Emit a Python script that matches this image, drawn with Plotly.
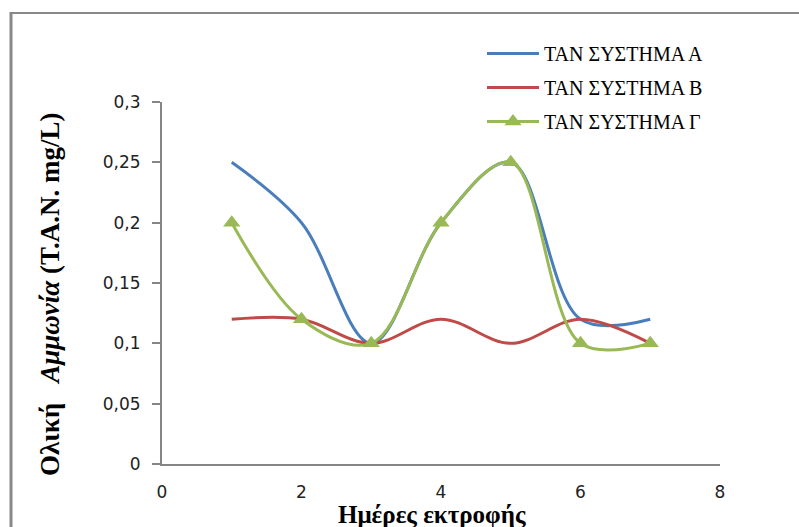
import plotly.graph_objects as go

days = [1, 2, 3, 4, 5, 6, 7]
series_a = [0.25, 0.20, 0.10, 0.20, 0.25, 0.12, 0.12]
series_b = [0.12, 0.12, 0.10, 0.12, 0.10, 0.12, 0.10]
series_c = [0.20, 0.12, 0.10, 0.20, 0.25, 0.10, 0.10]
names = ["ΤΑΝ ΣΥΣΤΗΜΑ Α", "ΤΑΝ ΣΥΣΤΗΜΑ Β", "ΤΑΝ ΣΥΣΤΗΜΑ Γ"]
y_ticks = [0, 0.05, 0.1, 0.15, 0.2, 0.25, 0.3]
y_ticklabels = ["0", "0,05", "0,1", "0,15", "0,2", "0,25", "0,3"]
x_ticks = [0, 2, 4, 6, 8]

W, H = 799, 527
L, R, T, B = 162, 79, 102, 63
pw, ph = W - L - R, H - T - B

def px_x(p):
    return (p - L) / pw

def px_y(p):
    return (H - B - p) / ph

SERIF = "Liberation Serif, Times New Roman, serif"

fig = go.Figure()
fig.add_trace(go.Scatter(x=days, y=series_a, name=names[0], mode="lines",
                         line=dict(color="#4A7EBB", width=3, shape="spline"),
                         legendgroup="a"))
fig.add_trace(go.Scatter(x=days, y=series_b, name=names[1], mode="lines",
                         line=dict(color="#BE4B48", width=3, shape="spline"),
                         legendgroup="b"))
fig.add_trace(go.Scatter(x=days, y=series_c, name=names[2], mode="lines+markers",
                         line=dict(color="#98B954", width=3, shape="spline"),
                         marker=dict(symbol="triangle-up", size=15, color="#98B954"),
                         legendgroup="c"))

fig.update_layout(
    width=W, height=H,
    margin=dict(l=L, r=R, t=T, b=B),
    paper_bgcolor="white", plot_bgcolor="white",
    showlegend=True,
    legend=dict(x=px_x(482), y=px_y(34), xanchor="left", yanchor="top",
                font=dict(family=SERIF, size=20, color="black"),
                traceorder="grouped", tracegroupgap=5, itemwidth=52,
                bgcolor="rgba(0,0,0,0)"),
    xaxis=dict(range=[0, 8], tickvals=x_ticks, showgrid=False, zeroline=False,
               showline=True, linecolor="#868686", linewidth=2, ticks="",
               ticklabelstandoff=12,
               tickfont=dict(family="DejaVu Sans", size=17, color="#222")),
    yaxis=dict(range=[0, 0.3], tickvals=y_ticks, ticktext=y_ticklabels,
               showgrid=False, zeroline=False, showline=True, linecolor="#868686",
               linewidth=2, ticks="outside", ticklen=8, tickcolor="#868686",
               tickwidth=2, ticklabelstandoff=8,
               tickfont=dict(family="DejaVu Sans", size=17, color="#222")),
    annotations=[
        dict(text="<b>Ημέρες εκτροφής</b>", xref="paper", yref="paper",
             x=px_x(432), y=px_y(514), showarrow=False,
             xanchor="center", yanchor="middle",
             font=dict(family=SERIF, size=25, color="black")),
        dict(text="<b>Ολική\u00a0\u00a0\u00a0<i>Αμμωνία</i> (T.A.N. mg/L)</b>",
             xref="paper", yref="paper", x=px_x(50), y=px_y(295),
             textangle=-90, showarrow=False, xanchor="center", yanchor="middle",
             font=dict(family=SERIF, size=27, color="black")),
    ],
    shapes=[
        dict(type="line", xref="paper", yref="paper",
             x0=px_x(11), x1=px_x(800), y0=px_y(13), y1=px_y(13),
             line=dict(color="#888888", width=2)),
        dict(type="line", xref="paper", yref="paper",
             x0=px_x(11), x1=px_x(11), y0=px_y(12), y1=px_y(528),
             line=dict(color="#888888", width=3)),
    ],
)

fig.write_html("out.html")
